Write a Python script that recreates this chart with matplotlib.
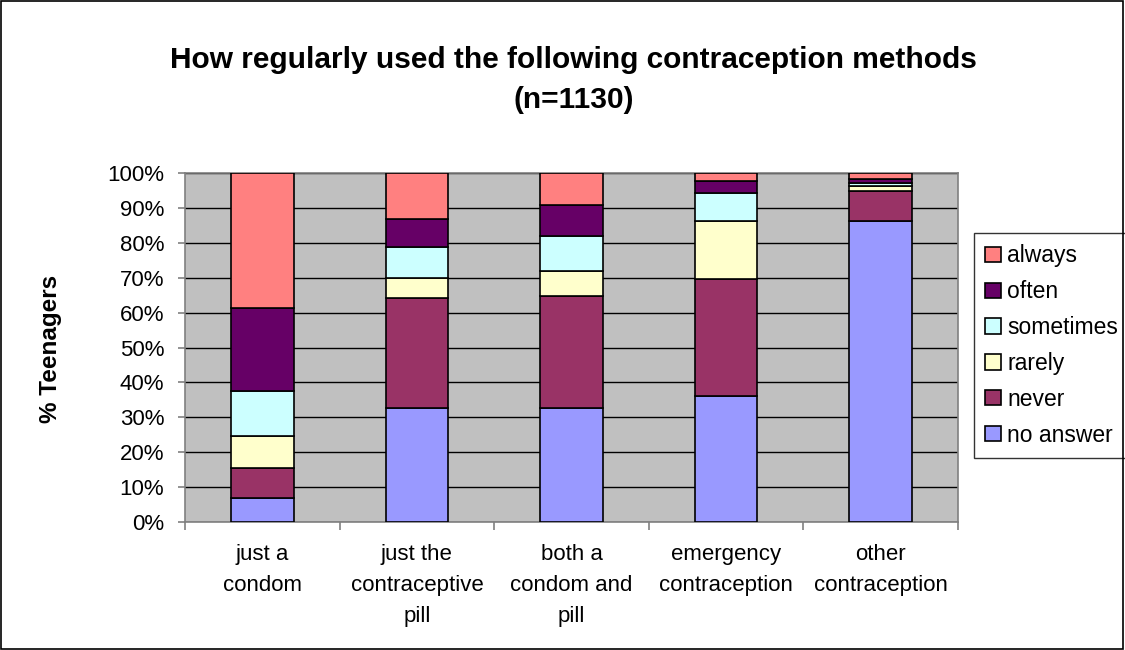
import matplotlib.pyplot as plt
import numpy as np
from matplotlib.patches import Rectangle

plt.rcParams['font.family'] = ['Liberation Sans', 'DejaVu Sans']

categories = ["just a\ncondom", "just the\ncontraceptive\npill", "both a\ncondom and\npill",
              "emergency\ncontraception", "other\ncontraception"]
no_answer = [6.8, 32.7, 32.7, 36.2, 86.3]
never = [8.7, 31.5, 32.1, 33.4, 8.6]
rarely = [9.1, 5.7, 7.0, 16.7, 1.5]
sometimes = [13.0, 8.9, 10.2, 8.1, 0.7]
often = [23.8, 8.1, 8.7, 3.2, 1.2]
always = [38.6, 13.1, 9.3, 2.4, 1.7]

series = [("no answer", no_answer, "#9999FF"),
          ("never", never, "#993366"),
          ("rarely", rarely, "#FFFFCC"),
          ("sometimes", sometimes, "#CCFFFF"),
          ("often", often, "#660066"),
          ("always", always, "#FF8080")]

fig = plt.figure(figsize=(11.25, 6.5), dpi=100)
ax = fig.add_axes([0.1644, 0.1969, 0.6872, 0.5369])
ax.set_facecolor("#C0C0C0")

x = np.arange(len(categories))
bottom = np.zeros(len(categories))
handles = []
for name, vals, col in series:
    b = ax.bar(x, vals, width=0.405, bottom=bottom, color=col, edgecolor="black",
               linewidth=1.2, label=name, zorder=3)
    bottom += np.array(vals)
    handles.append(b)

ax.set_xlim(-0.5, 4.5)
ax.set_ylim(0, 100)
ax.set_yticks(np.arange(0, 101, 10))
ax.set_yticklabels([f"{v}%" for v in range(0, 101, 10)], fontsize=16)
ax.yaxis.grid(True, color="black", linewidth=1)
ax.set_axisbelow(True)

ax.set_xticks(x)
ax.set_xticklabels(categories, fontsize=16, linespacing=1.62, va="top")
ax.tick_params(axis="x", length=0, pad=16)
ax.set_xticks(np.arange(-0.5, 5, 1), minor=True)
ax.tick_params(axis="x", which="minor", length=6, color="#808080", width=1.2)
ax.tick_params(axis="y", length=5, color="#808080", width=1.2, pad=10)

for s in ax.spines.values():
    s.set_color("#808080")
    s.set_linewidth(1.2)

ax.set_ylabel("% Teenagers", fontsize=17.5, fontweight="bold")
ax.yaxis.set_label_coords(62 / 1125, 1 - 349 / 650, transform=fig.transFigure)

fig.text(0.51, 0.877, "How regularly used the following contraception methods\n(n=1130)",
         ha="center", va="center", fontsize=21.5, fontweight="bold", linespacing=1.52)

leg = ax.legend(handles=handles[::-1], loc="upper left", bbox_to_anchor=(974 / 1125, 1 - 233 / 650),
                bbox_transform=fig.transFigure, fontsize=16.5, frameon=True, fancybox=False,
                edgecolor="black", handlelength=0.66, handleheight=0.66, handletextpad=0.3,
                labelspacing=0.56, borderpad=0.5, borderaxespad=0)
leg.get_frame().set_linewidth(1.0)

fig.patches.append(Rectangle((0.0005, 0.0008), 0.998, 0.998, transform=fig.transFigure,
                             fill=False, edgecolor="black", linewidth=1.2))

fig.savefig("out.png", dpi=100)
